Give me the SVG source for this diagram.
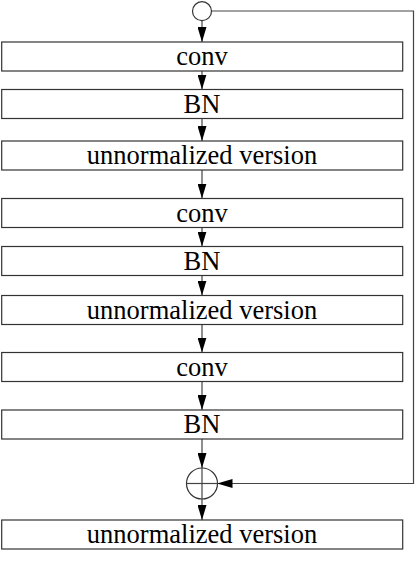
<svg xmlns="http://www.w3.org/2000/svg" width="416" height="563" viewBox="0 0 416 563">
<defs>
<style>
.box{fill:#fff;stroke:#333;stroke-width:1.2}
.lbl{font-family:"Liberation Serif","Times New Roman",serif;font-size:26.5px;fill:#000;text-anchor:middle}
.ln{fill:none;stroke:#444;stroke-width:1.2}
.circ{fill:#fff;stroke:#333;stroke-width:1.2}
</style>
<marker id="ah" markerUnits="userSpaceOnUse" markerWidth="15" markerHeight="9" viewBox="0 0 15 9" refX="15" refY="4.5" orient="auto">
<path d="M0,0 L15,4.5 L0,9 Z" fill="#000"/>
</marker>
</defs>
<rect width="416" height="563" fill="#fff"/>
<g id="connectors">
<line class="ln" x1="202" y1="21" x2="202" y2="42" marker-end="url(#ah)"/>
<line class="ln" x1="202" y1="71" x2="202" y2="89.5" marker-end="url(#ah)"/>
<line class="ln" x1="202" y1="118.5" x2="202" y2="141" marker-end="url(#ah)"/>
<line class="ln" x1="202" y1="170" x2="202" y2="198.5" marker-end="url(#ah)"/>
<line class="ln" x1="202" y1="227.5" x2="202" y2="246.5" marker-end="url(#ah)"/>
<line class="ln" x1="202" y1="275.5" x2="202" y2="295.5" marker-end="url(#ah)"/>
<line class="ln" x1="202" y1="324.5" x2="202" y2="352.5" marker-end="url(#ah)"/>
<line class="ln" x1="202" y1="381.5" x2="202" y2="410" marker-end="url(#ah)"/>
<line class="ln" x1="202" y1="439" x2="202" y2="468" marker-end="url(#ah)"/>
<line class="ln" x1="202" y1="499" x2="202" y2="520" marker-end="url(#ah)"/>
<polyline class="ln" points="211.5,11 413.5,11 413.5,483.5 217.5,483.5" marker-end="url(#ah)"/>
</g>
<g id="input"><circle class="circ" cx="202" cy="11.2" r="9.5"/></g>
<g id="conv1"><rect class="box" x="1.7" y="42" width="401" height="29"/><text class="lbl" x="202" y="65">conv</text></g>
<g id="bn1"><rect class="box" x="1.7" y="89.5" width="401" height="29"/><text class="lbl" x="202" y="112.5">BN</text></g>
<g id="unnorm1"><rect class="box" x="1.7" y="141" width="401" height="29"/><text class="lbl" x="202" y="164">unnormalized version</text></g>
<g id="conv2"><rect class="box" x="1.7" y="198.5" width="401" height="29"/><text class="lbl" x="202" y="221.5">conv</text></g>
<g id="bn2"><rect class="box" x="1.7" y="246.5" width="401" height="29"/><text class="lbl" x="202" y="269.5">BN</text></g>
<g id="unnorm2"><rect class="box" x="1.7" y="295.5" width="401" height="29"/><text class="lbl" x="202" y="318.5">unnormalized version</text></g>
<g id="conv3"><rect class="box" x="1.7" y="352.5" width="401" height="29"/><text class="lbl" x="202" y="375.5">conv</text></g>
<g id="bn3"><rect class="box" x="1.7" y="410" width="401" height="29"/><text class="lbl" x="202" y="433">BN</text></g>
<g id="add"><circle class="circ" cx="202" cy="483.5" r="15.5"/><line class="ln" x1="186.5" y1="483.5" x2="217.5" y2="483.5"/><line class="ln" x1="202" y1="468" x2="202" y2="499"/></g>
<g id="unnorm3"><rect class="box" x="1.7" y="520" width="401" height="29"/><text class="lbl" x="202" y="543">unnormalized version</text></g>
</svg>
